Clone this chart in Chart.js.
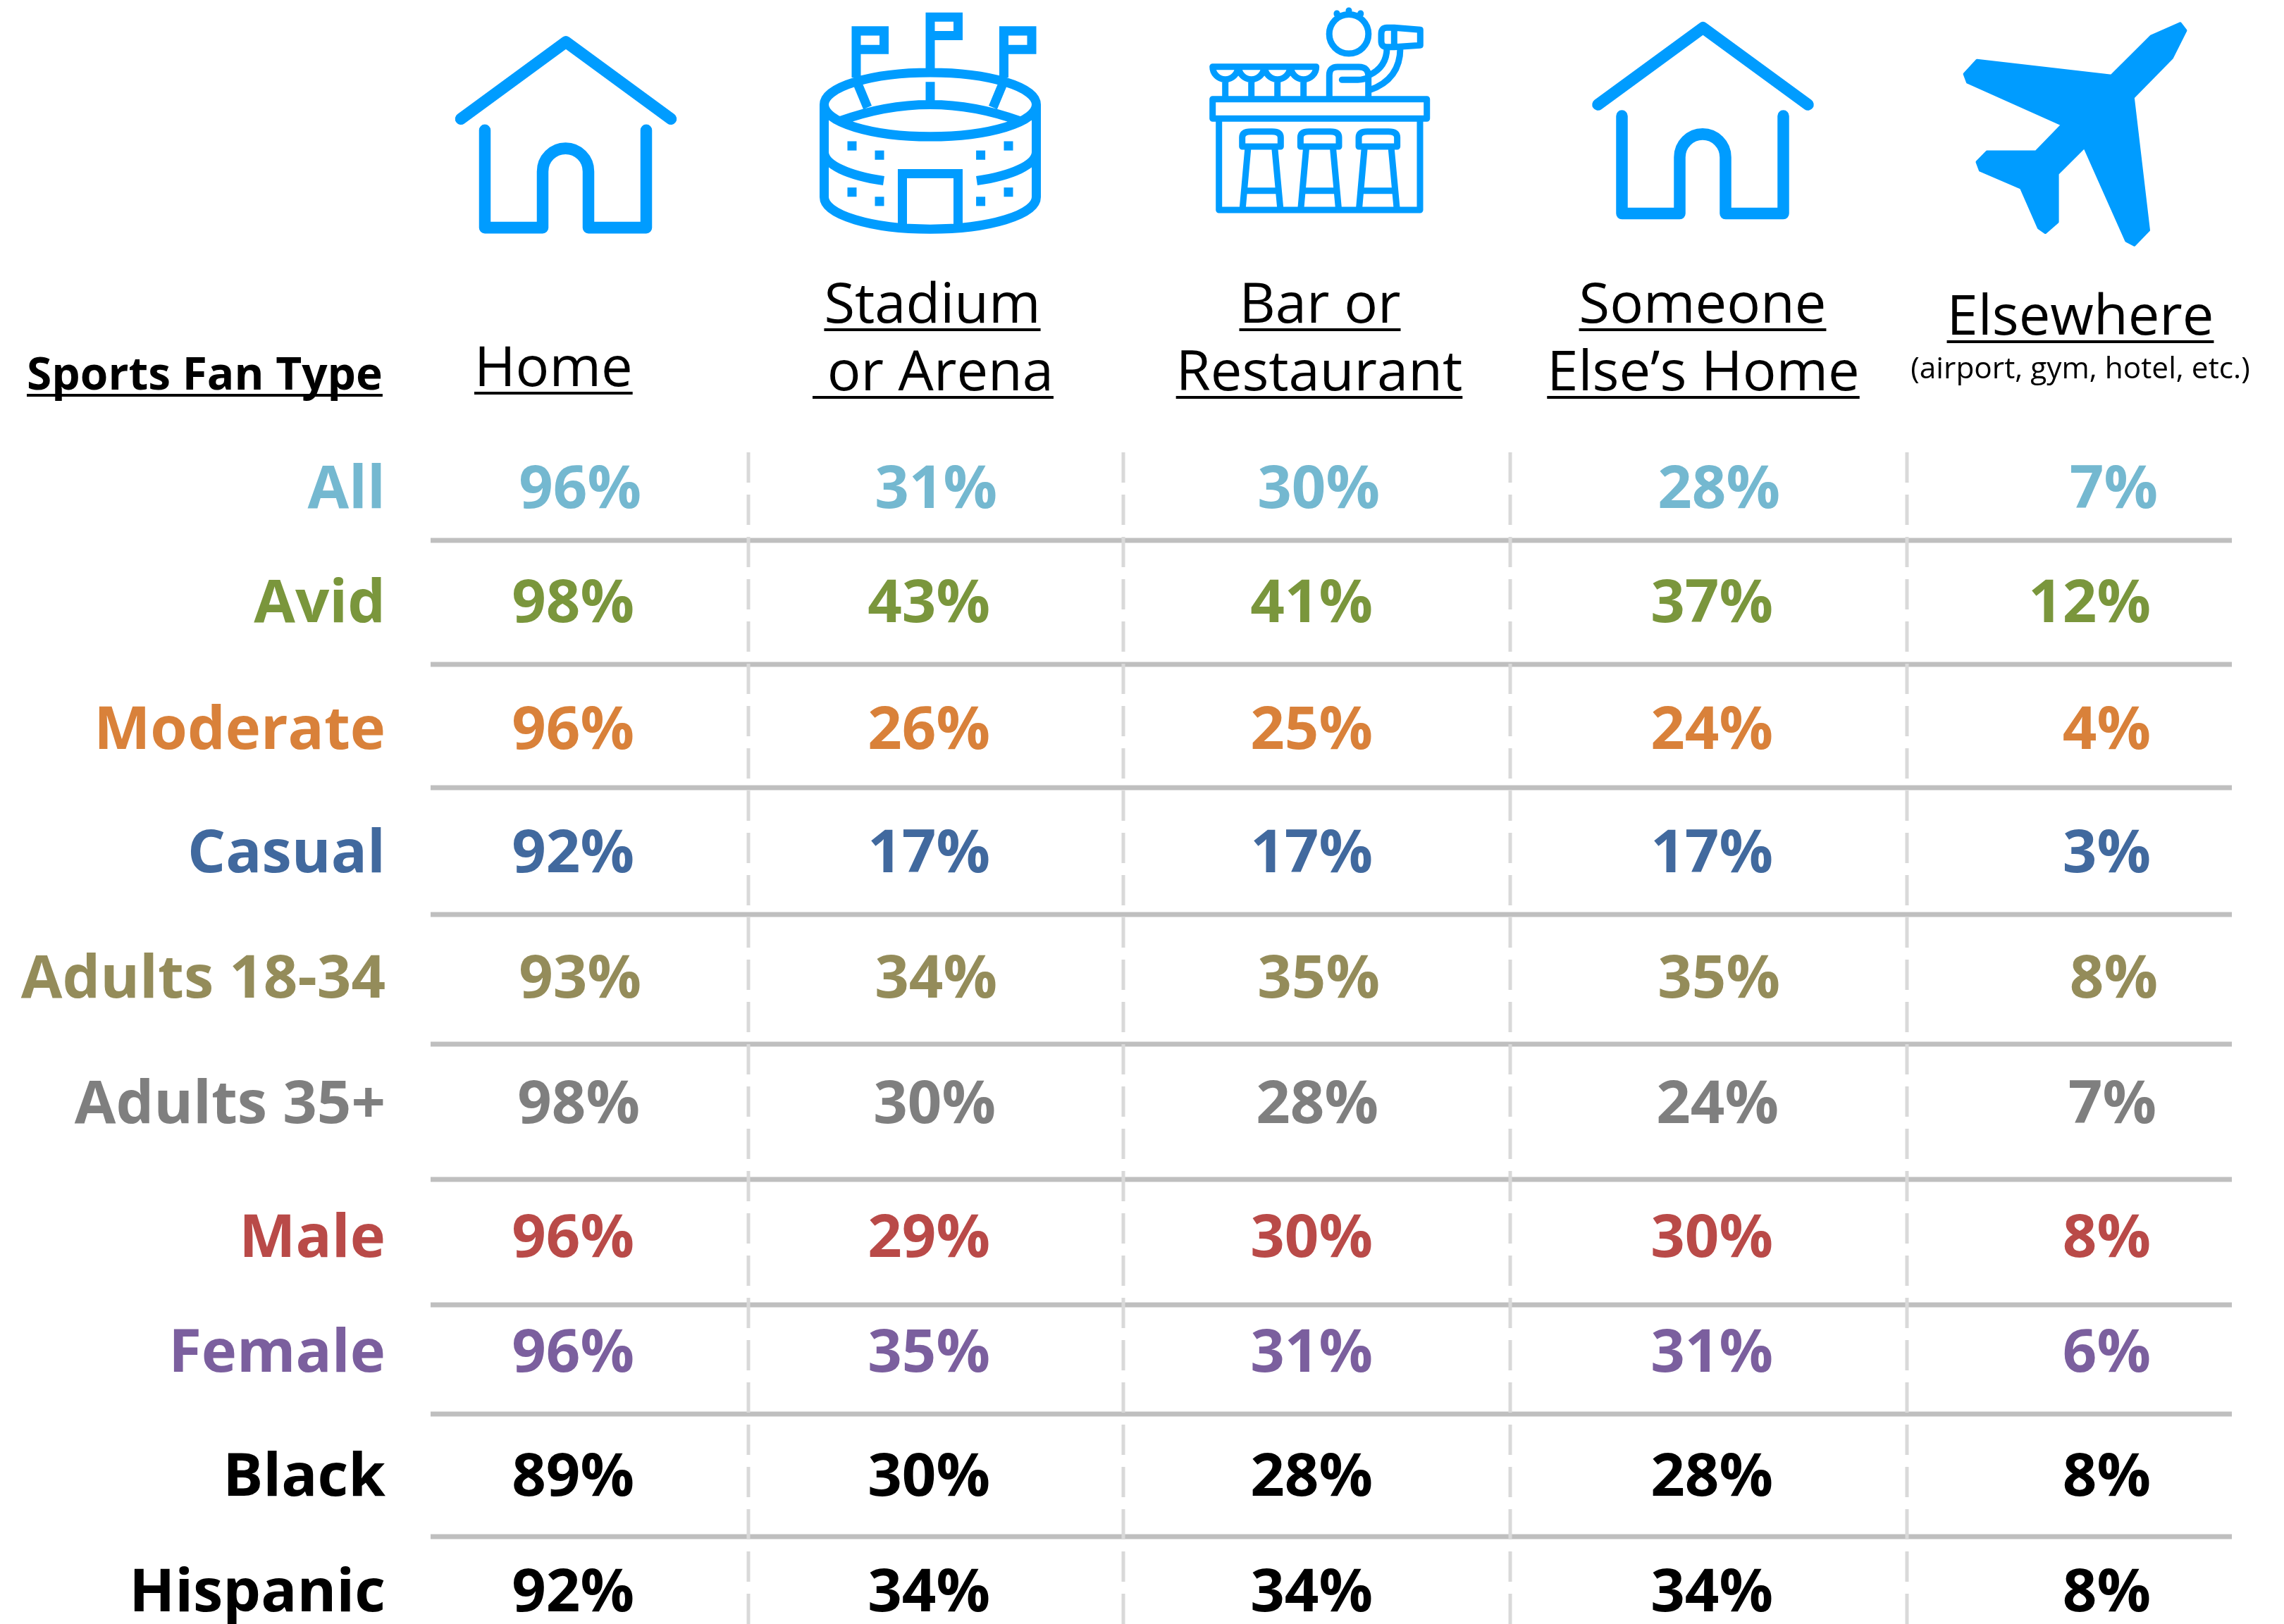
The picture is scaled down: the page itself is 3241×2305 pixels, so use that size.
<!DOCTYPE html>
<html>
<head>
<meta charset="utf-8">
<style>
  html, body { margin: 0; background: #fff; }
  canvas { display: block; }
</style>
<script src="https://cdn.jsdelivr.net/npm/chart.js@4/dist/chart.umd.js"></script>
</head>
<body>
<canvas id="chart" width="3241" height="2305"></canvas>
<script>
// data, one list per fan type, same order as places
const places = ["Home", "Stadium or Arena", "Bar or Restaurant", "Someone Else's Home", "Elsewhere"];
const fanTypes = ["All", "Avid", "Moderate", "Casual", "Adults 18-34", "Adults 35+", "Male", "Female", "Black", "Hispanic"];
const allFans = [96, 31, 30, 28, 7];
const avid = [98, 43, 41, 37, 12];
const moderate = [96, 26, 25, 24, 4];
const casual = [92, 17, 17, 17, 3];
const adults1834 = [93, 34, 35, 35, 8];
const adults35 = [98, 30, 28, 24, 7];
const male = [96, 29, 30, 30, 8];
const female = [96, 35, 31, 31, 6];
const black = [89, 30, 28, 28, 8];
const hispanic = [92, 34, 34, 34, 8];
const seriesByType = [allFans, avid, moderate, casual, adults1834, adults35, male, female, black, hispanic];

const rowColors = ["#74b8d0", "#7a963c", "#d9813a", "#41699e", "#948c5a", "#7f7f7f", "#b94a48", "#7b5f9e", "#000000", "#000000"];
const ICON_BLUE = "#009cff";
const FONT = '"Open Sans", "Noto Sans", sans-serif';

// the table isn't evenly spaced, so the category scales take a small px correction per slot
const colNudges = [1, -32, -27, 3, 1];
const rowNudges = [0, -12, -6, -5, -1, 3, 19, 8, 10, 0];
const rowTextShift = [10, 0, 0, 0, 10, 8, 0, 0, 0, 0];

const ruleYs = [767, 943, 1118, 1298, 1482, 1674, 1852, 2007, 2181];
const dividerXs = [1062, 1594, 2143, 2706];

const CategoryScale = Chart.registry.getScale("category");
class NudgedCategory extends CategoryScale {
  getPixelForValue(value) {
    const px = super.getPixelForValue(value);
    const i = typeof value === "number" ? value : this.parse(value);
    return px + (this.options.nudges[i] || 0);
  }
}
NudgedCategory.id = "nudgedCategory";
NudgedCategory.defaults = {};
Chart.register(NudgedCategory);

// header text, underlined by hand
function underlined(ctx, text, x, y, align, font, thick, gap) {
  ctx.font = font;
  ctx.textAlign = "left";
  ctx.textBaseline = "alphabetic";
  ctx.fillStyle = "#000";
  const w = ctx.measureText(text).width;
  const left = align === "center" ? x - w / 2 : x;
  ctx.fillText(text, left, y);
  ctx.fillRect(left, y + gap, w, thick);
}

function drawHeaders(ctx) {
  const head = "79.5px " + FONT;
  underlined(ctx, "Sports Fan Type", 38, 553, "left", "bold 64px " + FONT, 4, 6);
  underlined(ctx, "Home", 673, 548, "left", head, 4, 8);
  underlined(ctx, "Stadium", 1323, 458, "center", head, 4, 8);
  underlined(ctx, " or Arena", 1153, 554, "left", head, 4, 8);
  underlined(ctx, "Bar or", 1873, 458, "center", head, 4, 8);
  underlined(ctx, "Restaurant", 1872, 554, "center", head, 4, 8);
  underlined(ctx, "Someone", 2416, 458, "center", head, 4, 8);
  underlined(ctx, "Else\u2019s Home", 2417, 554, "center", head, 4, 8);
  underlined(ctx, "Elsewhere", 2952, 475, "center", head, 4, 8);
  ctx.font = "42.4px " + FONT;
  ctx.textAlign = "center";
  ctx.fillText("(airport, gym, hotel, etc.)", 2952, 537);
}

function drawRules(ctx) {
  ctx.save();
  ctx.strokeStyle = "#bfbfbf";
  ctx.lineWidth = 7;
  ruleYs.forEach((y) => {
    ctx.beginPath();
    ctx.moveTo(611, y);
    ctx.lineTo(3167, y);
    ctx.stroke();
  });
  ctx.strokeStyle = "#d9d9d9";
  ctx.lineWidth = 5;
  ctx.setLineDash([43, 17]);
  dividerXs.forEach((x) => {
    ctx.beginPath();
    ctx.moveTo(x, 642);
    ctx.lineTo(x, 2305);
    ctx.stroke();
  });
  ctx.restore();
}

// icons
const HOUSE = "M654 167 L803 59 L952 167 M688 183 V320 H770 V241 A32.5 32.5 0 0 1 835 241 V320 H917 V183";
const STADIUM = [
  "M1169.5 147 A150.5 45 0 0 1 1470.5 147 A150.5 45 0 0 1 1169.5 147 Z",
  "M1192 170 Q1320 124 1447 170",
  "M1169.5 147 V277 A150.5 45 0 0 0 1470.5 277 V147",
  "M1169.5 214 A150.5 45 0 0 0 1254 254",
  "M1470.5 214 A150.5 45 0 0 1 1386 254",
  "M1280.5 322 V244 H1359.5 V322",
  "M1215 109 V43.5 H1254.5 V69.5 H1215",
  "M1320 96 V24 H1359.5 V50 H1320",
  "M1424.5 109 V43.5 H1464 V69.5 H1424.5",
  "M1320 115 V142",
  "M1218 120 L1231 151",
  "M1422 120 L1409 151",
].join(" ");
const STADIUM_WINDOWS = [[1209, 205], [1248, 218], [1391.6, 218], [1431, 205], [1209, 270], [1248, 283], [1391.6, 283], [1431, 270]];
const BAR = [
  "M1720.7 140.7 H2024.7 V168.3 H1720.7 Z",
  "M1729.7 168.3 V298 H2015 V168.3",
  "M1720.7 94.7 H1867.7",
  "M1720.7 94.7 A18 18 0 0 0 1756.7 94.7 M1757.7 94.7 A18 18 0 0 0 1793.7 94.7 M1794.7 94.7 A18 18 0 0 0 1830.7 94.7 M1831.7 94.7 A18 18 0 0 0 1867.7 94.7",
  "M1738.7 113 V137 M1775.7 113 V137 M1812.7 113 V137 M1849.7 113 V137",
  "M1941.8 48.3 A27.8 27.8 0 1 1 1886.2 48.3 A27.8 27.8 0 1 1 1941.8 48.3 Z",
  "M1897 19 V20 M1914 15 V18 M1930.7 19 V20",
  "M1886.3 137 V106.7 Q1886.3 95 1898 95 H1928.3 Q1941.7 95 1941.7 108.3 V137",
  "M1904.3 113.3 H1926.7 Q1936 113 1941 110",
  "M1943 128 Q1987 113 1987 68",
  "M1943 106.7 Q1968 95 1968 68",
  "M1978.3 39.3 H1968 Q1960 39.3 1960 48.3 V58.3 Q1960 66.7 1968 66.7 H1978.3",
  "M1978.3 39.3 L2015.3 42.3 V64.3 L1978.3 66.7 Z",
].join(" ");
const STOOL = "M1762.7 208 V195 Q1762.7 186.7 1775 186.7 H1805 Q1817.3 186.7 1817.3 195 V208 Z M1770.7 212 L1763.3 295 M1809 212 L1816.7 295 M1767 270.7 H1812.7";
const PLANE = "M3093.7 33 L3101.4 42.9 L3082.2 80.9 L3026.8 137 L3049 323.4 L3028.7 344.2 L3017.2 338.3 L2957.9 206.3 L2919.6 244.2 L2919.6 311.9 L2902.4 326.7 L2892.8 320.1 L2868 264 L2809.9 239.3 L2805.5 227.7 L2819.5 213.5 L2889 213.5 L2926.6 175.2 L2792 115.5 L2787.6 104 L2805.5 84.8 L2996.1 106.6 L3052.3 51.2 Z";

function drawIcons(ctx) {
  ctx.save();
  ctx.strokeStyle = ICON_BLUE;
  ctx.fillStyle = ICON_BLUE;
  ctx.lineJoin = "round";
  ctx.lineCap = "round";

  // bar icon was traced at true scale, the others 1% short vertically
  ctx.save();
  ctx.scale(1, 1.01);
  ctx.lineWidth = 16.5;
  ctx.stroke(new Path2D(HOUSE));
  ctx.save();
  ctx.translate(1613.5, -20);
  ctx.stroke(new Path2D(HOUSE));
  ctx.restore();

  ctx.lineWidth = 13;
  ctx.lineCap = "butt";
  ctx.lineJoin = "miter";
  ctx.stroke(new Path2D(STADIUM));
  STADIUM_WINDOWS.forEach(([x, y]) => ctx.fillRect(x - 6.5, y - 6.5, 13, 13));

  ctx.lineWidth = 4;
  ctx.lineCap = "round";
  ctx.lineJoin = "round";
  const plane = new Path2D(PLANE);
  ctx.fill(plane);
  ctx.stroke(plane);
  ctx.restore();

  ctx.lineWidth = 9;
  ctx.lineCap = "round";
  ctx.lineJoin = "round";
  ctx.stroke(new Path2D(BAR));
  [0, 82.67, 165.33].forEach((dx) => {
    ctx.save();
    ctx.translate(dx, 0);
    ctx.stroke(new Path2D(STOOL));
    ctx.restore();
  });
  ctx.restore();
}

const tablePlugin = {
  id: "tablePlugin",
  beforeDatasetsDraw(chart) {
    drawRules(chart.ctx);
  },
  afterDatasetsDraw(chart) {
    const ctx = chart.ctx;
    // cell values sit on the library's points, right aligned inside each column
    ctx.save();
    ctx.font = "bold 85px " + FONT;
    ctx.textAlign = "right";
    ctx.textBaseline = "middle";
    chart.data.datasets.forEach((ds, r) => {
      ctx.fillStyle = rowColors[r];
      chart.getDatasetMeta(r).data.forEach((pt, c) => {
        ctx.fillText(ds.data[c].v + "%", pt.x + rowTextShift[r], pt.y);
      });
    });
    ctx.restore();
    ctx.save();
    drawHeaders(ctx);
    ctx.restore();
    drawIcons(ctx);
  },
};

const datasets = fanTypes.map((type, r) => ({
  label: type,
  data: places.map((place, c) => ({ x: place, y: type, v: seriesByType[r][c] })),
  pointRadius: 0,
  showLine: false,
}));

new Chart(document.getElementById("chart"), {
  type: "scatter",
  data: { datasets },
  plugins: [tablePlugin],
  options: {
    responsive: false,
    animation: false,
    events: [],
    layout: { padding: { top: 697, bottom: 42, right: 190, left: 0 } },
    plugins: { legend: { display: false }, tooltip: { enabled: false }, title: { display: false } },
    scales: {
      x: {
        type: "nudgedCategory",
        labels: places,
        nudges: colNudges,
        offset: false,
        display: false,
      },
      y: {
        type: "nudgedCategory",
        labels: fanTypes,
        nudges: rowNudges,
        offset: false,
        position: "left",
        grid: { display: false, drawTicks: false },
        border: { display: false },
        // big tick padding would otherwise eat into the plot height
        afterFit(scale) {
          scale.width = 899;
          scale.paddingTop = 0;
          scale.paddingBottom = 0;
        },
        ticks: {
          autoSkip: false,
          padding: 352,
          maxRotation: 0,
          minRotation: 0,
          font: { family: FONT, size: 85, weight: "bold" },
          color: (c) => rowColors[c.index],
        },
      },
    },
  },
});
</script>
</body>
</html>
